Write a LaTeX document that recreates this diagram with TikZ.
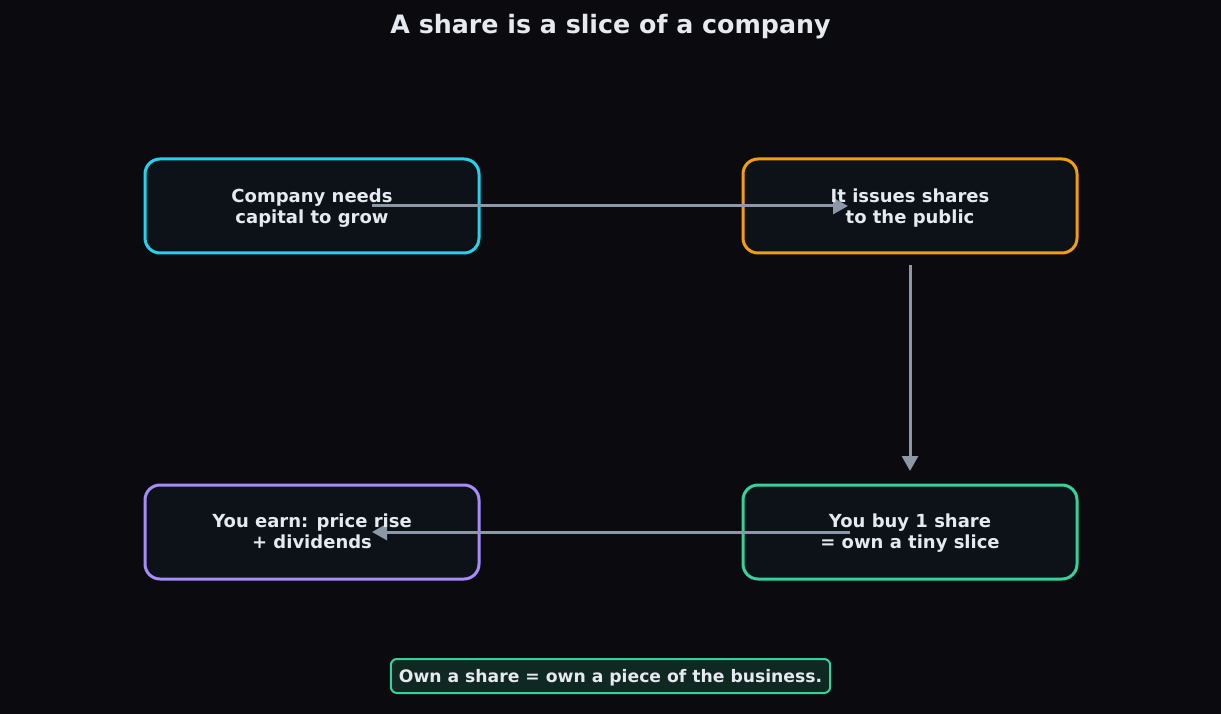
\documentclass[tikz,border=0pt]{standalone}
\usepackage{fontspec}
\setmainfont{DejaVu Sans}
\usetikzlibrary{positioning}
\usetikzlibrary{arrows.meta}
\definecolor{pagebg}{HTML}{0B0B0F}
\definecolor{boxbg}{HTML}{0D1118}
\definecolor{txt}{HTML}{E6EAF0}
\definecolor{linkgray}{HTML}{8C98A8}
\definecolor{cyanline}{HTML}{22D3EE}
\definecolor{orangeline}{HTML}{F59E0B}
\definecolor{greenline}{HTML}{34D399}
\definecolor{purpleline}{HTML}{A78BFA}
\definecolor{notebg}{HTML}{0F2922}
\pgfdeclarelayer{background}
\pgfdeclarelayer{links}
\pgfsetlayers{background,links,main}
\tikzset{card/.style = {minimum width = 334pt, minimum height = 94pt, inner sep = 0pt, outer sep = 0pt,
    line width = 3pt, rounded corners = 15pt, fill = boxbg}}
\tikzset{cardtext/.style = {align = center, text = txt, font = \bfseries\fontsize{18}{21}\selectfont,
    execute at end node = \rule[-4.25pt]{0pt}{4.25pt}}}
\tikzset{link/.style = {draw = linkgray, line width = 3pt, -{Triangle[length = 15pt, width = 16pt]}}}

\begin{document}
\begin{tikzpicture}[x = 1pt, y = -1pt, node distance = 264pt]
    \useasboundingbox (0, 0) rectangle (1221, 714);
    \begin{pgfonlayer}{background}
      \fill [pagebg] (0, 0) rectangle (1221, 714);
      \node [card, draw = cyanline] (company) at (312, 206) {};
      \node [card, draw = orangeline, right = of company] (issues) {};
      \node [card, draw = greenline, below = 232pt of issues] (buy) {};
      \node [card, draw = purpleline, left = of buy] (earn) {};
    \end{pgfonlayer}

    \node [text = txt, font = \bfseries\fontsize{25.3}{30}\selectfont] (title) at (610.5, 27)
      {A share is a slice of a company};

    \node [cardtext] (companytext) at ([yshift = -2pt] company.center) {Company needs\\capital to grow};
    \node [cardtext] (issuestext) at ([yshift = -2pt] issues.center) {It issues shares\\to the public};
    \node [cardtext] (buytext) at ([yshift = -1pt] buy.center) {You buy 1 share\\= own a tiny slice};
    \node [cardtext] (earntext) at ([yshift = -1pt] earn.center) {You earn: price rise\\+ dividends};

    \node [draw = greenline, fill = notebg, line width = 2pt, rounded corners = 6pt,
      inner xsep = 8pt, minimum height = 34pt, text height = 17pt, text depth = 4pt, text = txt,
      font = \bfseries\fontsize{17.2}{20}\selectfont] (moral) at (610.5, 676)
      {Own a share = own a piece of the business.};

    \begin{pgfonlayer}{links}
      \draw [link, shorten <= 60pt, shorten >= 62pt] (company.center) -- (issues.center);
      \draw [link, shorten <= 59pt, shorten >= 61pt] (issues.center) -- (buy.center);
      \draw [link, shorten <= 60pt, shorten >= 60pt] (buy.center) -- (earn.center);
    \end{pgfonlayer}
  \end{tikzpicture}
\end{document}
